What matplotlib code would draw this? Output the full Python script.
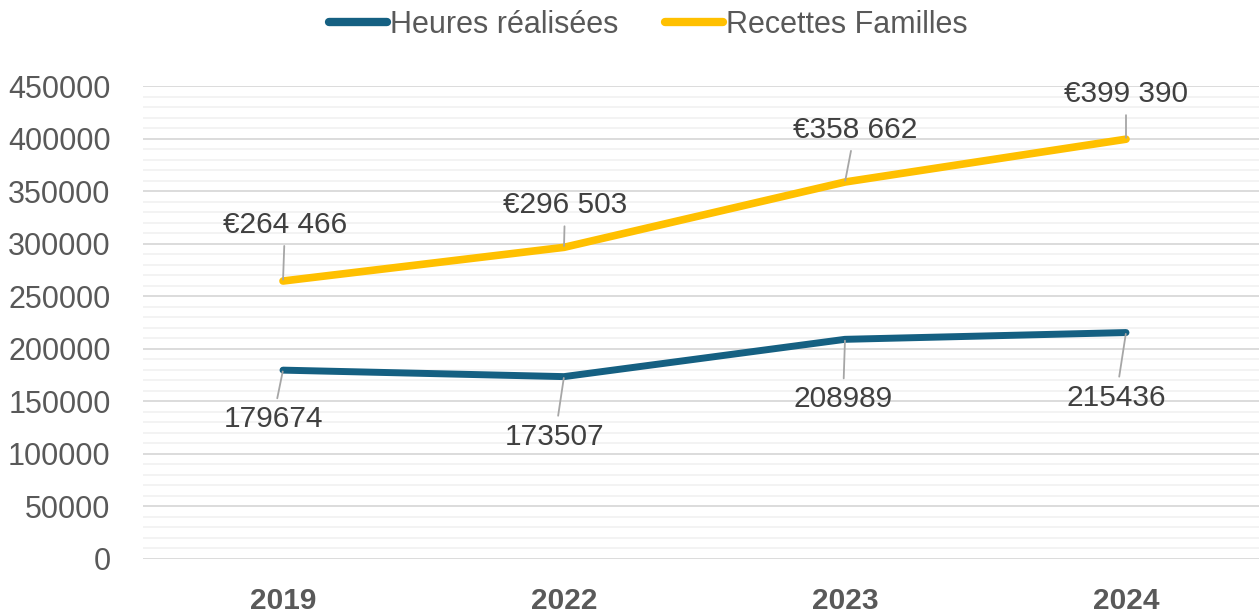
import numpy as np
import matplotlib.pyplot as plt

years = ["2019", "2022", "2023", "2024"]
heures = [179674, 173507, 208989, 215436]
recettes = [264466, 296503, 358662, 399390]
heures_labels = ["179674", "173507", "208989", "215436"]
recettes_labels = ["€264 466", "€296 503", "€358 662", "€399 390"]

# label offsets in pixels (dx, dy) from the point
heures_off = [(-10, -49), (-9, -60), (-2, -60), (-10, -65)]
recettes_off = [(2, 56), (1, 42), (10, 52), (0, 45)]

plt.rcParams["font.family"] = ["Liberation Sans", "DejaVu Sans"]

fig = plt.figure(figsize=(12.59, 6.13), dpi=100)
ax = fig.add_axes([142.5 / 1259, (613 - 559) / 613, 1124 / 1259, (559 - 86) / 613])

x = np.arange(len(years))
c_h = "#156082"
c_r = "#FFC000"
ax.plot(x, heures, color=c_h, lw=5, solid_capstyle="round", label="Heures réalisées", zorder=3)
ax.plot(x, recettes, color=c_r, lw=5.5, solid_capstyle="round", label="Recettes Familles", zorder=3)

ax.set_xlim(-0.5, 3.5)
ax.set_ylim(0, 450000)
ax.set_yticks(np.arange(0, 450001, 50000))
ax.set_yticks(np.arange(0, 450001, 10000), minor=True)
ax.grid(True, which="major", axis="y", color="#d9d9d9", lw=1.3)
ax.grid(True, which="minor", axis="y", color="#f2f2f2", lw=1.3)
ax.set_axisbelow(True)
for s in ax.spines.values():
    s.set_visible(False)

ax.set_xticks(x)
ax.set_xticklabels(years, fontsize=21.5, fontweight="bold", color="#595959")
ax.tick_params(axis="x", length=0, pad=20)
ax.tick_params(axis="y", which="both", length=0, pad=23, labelsize=22, labelcolor="#595959")

px = 72 / 100
for i in range(len(years)):
    dx, dy = heures_off[i]
    ax.annotate(heures_labels[i], (x[i], heures[i]), xytext=(dx * px, dy * px),
                textcoords="offset points", ha="center", va="center",
                fontsize=21.5, color="#404040",
                arrowprops=dict(arrowstyle="-", color="#a6a6a6", lw=1.3, shrinkA=3, shrinkB=1))
    dx, dy = recettes_off[i]
    ax.annotate(recettes_labels[i], (x[i], recettes[i]), xytext=(dx * px, dy * px),
                textcoords="offset points", ha="center", va="center",
                fontsize=21.5, color="#404040",
                arrowprops=dict(arrowstyle="-", color="#a6a6a6", lw=1.3, shrinkA=3, shrinkB=1))

leg = fig.legend(loc="center", bbox_to_anchor=(0.515, 0.959), ncol=2, frameon=False,
                 fontsize=22, handlelength=1.9, handletextpad=0.1, columnspacing=1.5)
for t in leg.get_texts():
    t.set_color("#595959")
for h in leg.get_lines():
    h.set_solid_capstyle("round")
    h.set_linewidth(6)

fig.savefig("out.png", dpi=100, facecolor="white")
